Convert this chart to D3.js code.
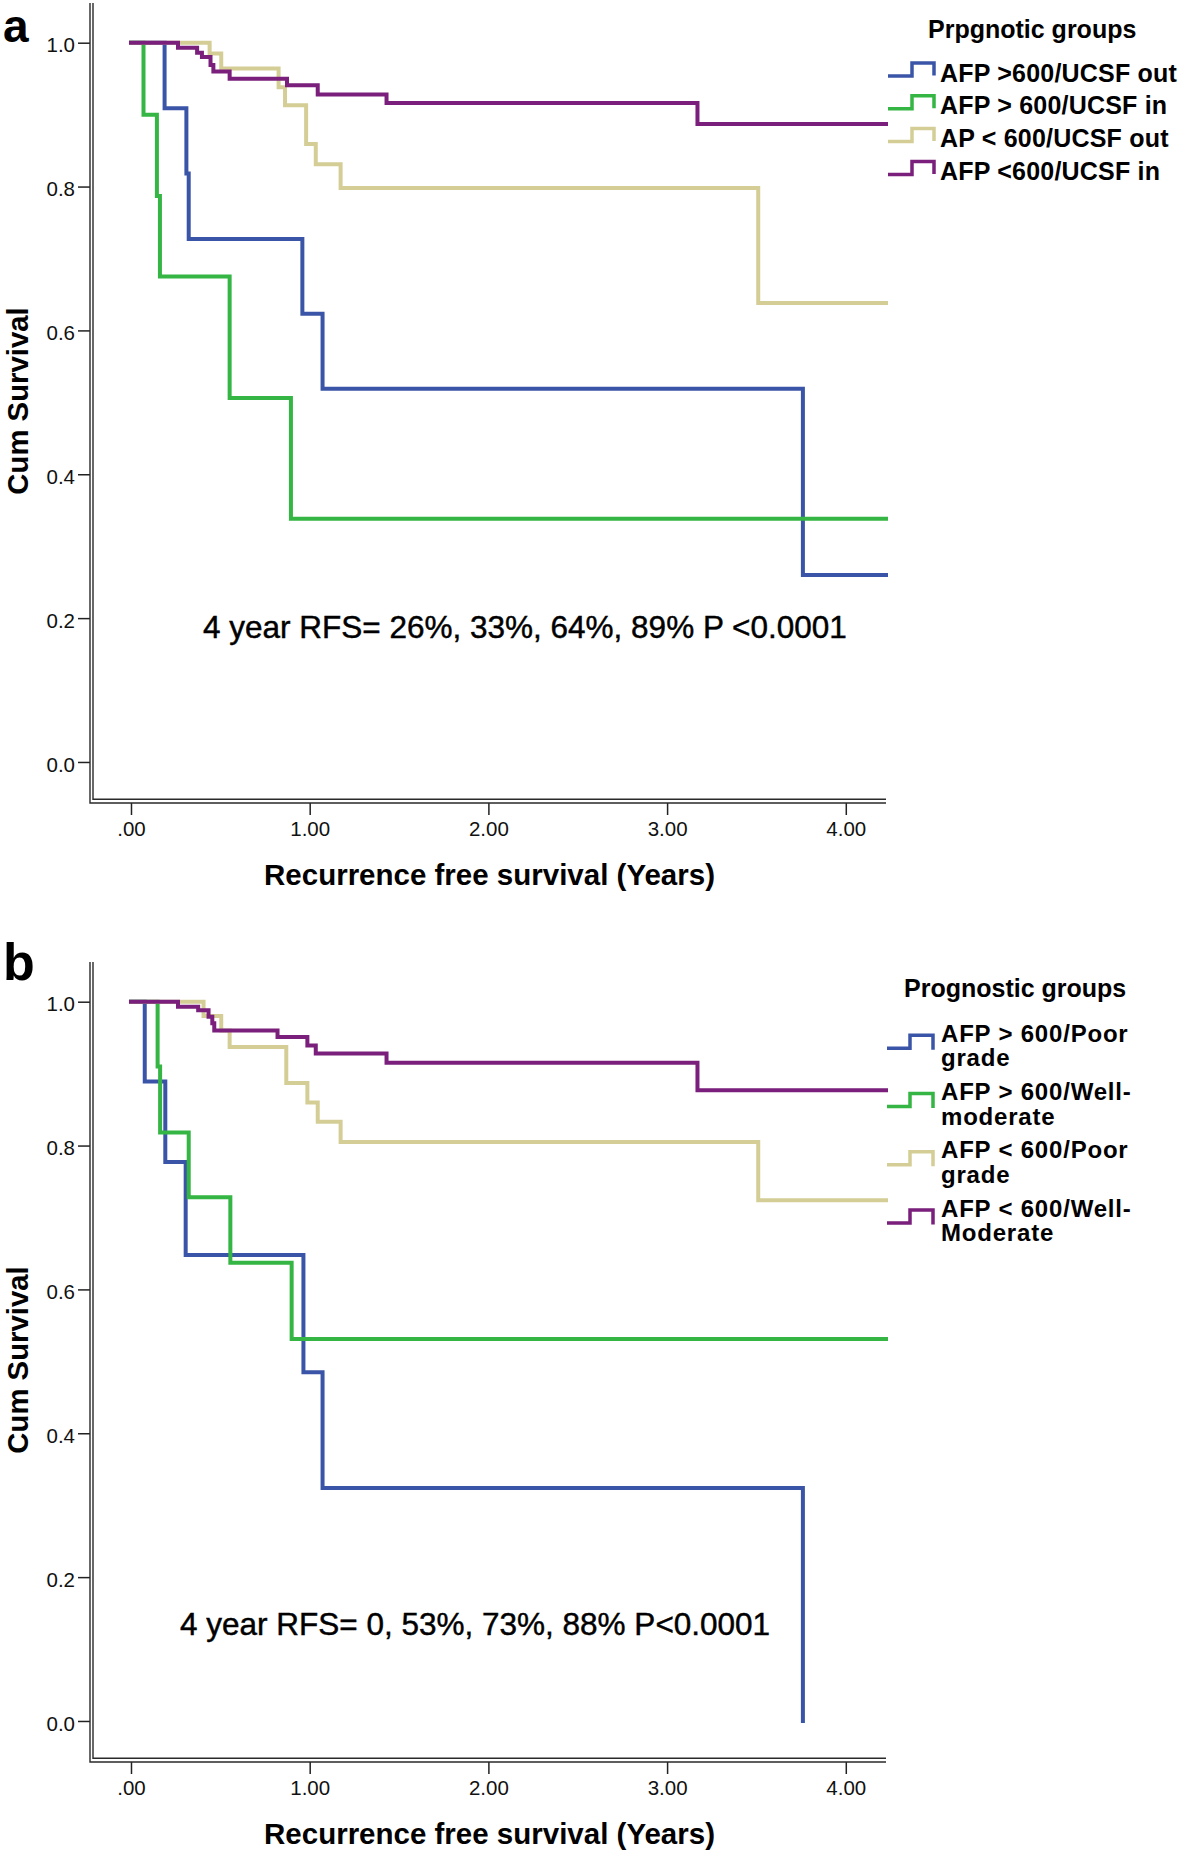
<!DOCTYPE html>
<html>
<head>
<meta charset="utf-8">
<script src="https://cdn.jsdelivr.net/npm/d3@7"></script>
<style>
  body { margin: 0; background: #fff; }
</style>
</head>
<body>
<script>
const xTicks = [0, 1, 2, 3, 4];
const yTicks = [0, 0.2, 0.4, 0.6, 0.8, 1.0];
const colors = ['#3a55a7', '#35b543', '#d4ce96', '#7a1f7b'];

// panel a: prognostic groups AFP / UCSF
const titleA = 'Prpgnotic groups';
const groupsA = [['AFP >600/UCSF out'], ['AFP > 600/UCSF in'], ['AP < 600/UCSF out'], ['AFP <600/UCSF in']];
const timeA1 = [0, 0.188, 0.31, 0.323, 0.959, 1.072, 3.76, 4.225];
const survA1 = [1, 0.909, 0.818, 0.727, 0.623, 0.519, 0.26, 0.26];
const timeA2 = [0, 0.07, 0.145, 0.162, 0.552, 0.895, 4.225];
const survA2 = [1, 0.9, 0.787, 0.675, 0.506, 0.338, 0.338];
const timeA3 = [0, 0.44, 0.505, 0.826, 0.862, 0.98, 1.034, 1.173, 3.51, 4.225];
const survA3 = [1, 0.985, 0.964, 0.938, 0.913, 0.859, 0.831, 0.798, 0.638, 0.638];
const timeA4 = [0, 0.263, 0.37, 0.397, 0.445, 0.461, 0.552, 0.873, 1.045, 1.43, 3.17, 4.225];
const survA4 = [1, 0.993, 0.986, 0.98, 0.969, 0.96, 0.95, 0.941, 0.928, 0.916, 0.887, 0.887];
const noteA = '4 year RFS= 26%, 33%, 64%, 89% P <0.0001';

// panel b: prognostic groups AFP / grade
const titleB = 'Prognostic groups';
const groupsB = [['AFP > 600/Poor', 'grade'], ['AFP > 600/Well-', 'moderate'], ['AFP < 600/Poor', 'grade'], ['AFP < 600/Well-', 'Moderate']];
const timeB1 = [0, 0.077, 0.192, 0.306, 0.965, 1.072, 3.76];
const survB1 = [1, 0.889, 0.777, 0.648, 0.485, 0.324, 0];
const timeB2 = [0, 0.149, 0.163, 0.323, 0.556, 0.899, 4.225];
const survB2 = [1, 0.91, 0.818, 0.728, 0.637, 0.531, 0.531];
const timeB3 = [0, 0.406, 0.505, 0.552, 0.869, 0.987, 1.045, 1.173, 3.51, 4.225];
const survB3 = [1, 0.98, 0.96, 0.937, 0.887, 0.86, 0.833, 0.805, 0.724, 0.724];
const timeB4 = [0, 0.263, 0.376, 0.434, 0.455, 0.466, 0.82, 0.987, 1.034, 1.43, 3.17, 4.225];
const survB4 = [1, 0.993, 0.988, 0.979, 0.97, 0.96, 0.951, 0.939, 0.928, 0.915, 0.877, 0.877];
const noteB = '4 year RFS= 0, 53%, 73%, 88% P<0.0001';

const font = '"Liberation Sans", Arial, sans-serif';
const w = 1181, h = 1853;

const svg = d3.select('body').append('svg')
  .attr('width', w)
  .attr('height', h)
  .style('background', '#fff');

const x = d3.scaleLinear().domain([-0.2126, 4.225]).range([93, 886]);
const y = d3.scaleLinear().domain([-0.0519, 1.0552]).range([799.3, 3]);

const line = d3.line()
  .x(d => x(d[0]))
  .y(d => y(d[1]))
  .curve(d3.curveStepAfter);

const zip = (t, s) => t.map((v, i) => [v, s[i]]);

function drawPanel(offset, letter, series, note, noteX, noteY) {
  const g = svg.append('g').attr('transform', `translate(0, ${offset})`);

  // axes (SPSS style double frame lines)
  const yAxis = g.append('g')
    .attr('transform', 'translate(90, 0)')
    .call(d3.axisLeft(y).tickValues(yTicks).tickSize(12).tickPadding(3).tickFormat(d3.format('.1f')));
  const xAxis = g.append('g')
    .attr('transform', 'translate(0, 803)')
    .call(d3.axisBottom(x).tickValues(xTicks).tickSize(12).tickPadding(6)
      .tickFormat(d => d === 0 ? '.00' : d3.format('.2f')(d)));

  [yAxis, xAxis].forEach(a => {
    a.select('.domain').remove();
    a.attr('font-family', font).attr('font-size', 20.5).attr('color', '#222');
    a.selectAll('.tick line').attr('stroke-width', 1.5);
    a.selectAll('.tick text').attr('fill', '#111');
  });
  yAxis.selectAll('.tick text').attr('dy', '0.45em');

  const frame = g.append('g').attr('fill', 'none').attr('stroke', '#2a2a2a').attr('stroke-width', 1.4);
  frame.append('path').attr('d', `M90,3 V803 H886`);
  frame.append('path').attr('d', `M93,3 V799.3 H886`);

  // curves
  g.append('g')
    .selectAll('path')
    .data(series)
    .join('path')
    .attr('d', d => line(d))
    .attr('fill', 'none')
    .attr('stroke', (d, i) => colors[i])
    .attr('stroke-width', 4)
    .attr('stroke-linejoin', 'miter')
    .attr('stroke-linecap', 'square');

  // labels
  g.append('text')
    .attr('x', 3)
    .attr('y', letter === 'a' ? 41.5 : 21)
    .attr('font-family', font)
    .attr('font-weight', 'bold')
    .attr('font-size', letter === 'a' ? 46 : 52)
    .text(letter);

  g.append('text')
    .attr('transform', 'translate(27.5, 401) rotate(-90)')
    .attr('text-anchor', 'middle')
    .attr('font-family', font)
    .attr('font-weight', 'bold')
    .attr('font-size', 29.3)
    .text('Cum Survival');

  g.append('text')
    .attr('x', 489.5)
    .attr('y', 885)
    .attr('text-anchor', 'middle')
    .attr('font-family', font)
    .attr('font-weight', 'bold')
    .attr('font-size', 29.5)
    .text('Recurrence free survival (Years)');

  g.append('text')
    .attr('x', noteX)
    .attr('y', noteY)
    .attr('font-family', font)
    .attr('font-size', 31.5)
    .attr('stroke', '#000')
    .attr('stroke-width', 0.45)
    .text(note);

  return g;
}

// panel a
const gA = drawPanel(0, 'a',
  [zip(timeA1, survA1), zip(timeA2, survA2), zip(timeA3, survA3), zip(timeA4, survA4)],
  noteA, 203, 638);

gA.append('text')
  .attr('x', 928).attr('y', 37.7)
  .attr('font-family', font).attr('font-weight', 'bold').attr('font-size', 25)
  .text(titleA);

const legA = gA.selectAll('.legend-a')
  .data(groupsA)
  .join('g')
  .attr('class', 'legend-a')
  .attr('transform', (d, i) => `translate(0, ${81.5 + i * 32.8})`);

legA.append('path')
  .attr('d', 'M888,-5.5 H912 V-18.5 H934 V-6')
  .attr('fill', 'none')
  .attr('stroke', (d, i) => colors[i])
  .attr('stroke-width', 3.5);

legA.append('text')
  .attr('x', 940)
  .attr('font-family', font).attr('font-weight', 'bold').attr('font-size', 25)
  .attr('letter-spacing', 0.2)
  .text(d => d[0]);

// panel b
const gB = drawPanel(959, 'b',
  [zip(timeB1, survB1), zip(timeB2, survB2), zip(timeB3, survB3), zip(timeB4, survB4)],
  noteB, 180, 676);

gB.append('text')
  .attr('x', 904).attr('y', 37.7)
  .attr('font-family', font).attr('font-weight', 'bold').attr('font-size', 25)
  .text(titleB);

const legB = gB.selectAll('.legend-b')
  .data(groupsB)
  .join('g')
  .attr('class', 'legend-b')
  .attr('transform', (d, i) => `translate(0, ${82.7 + i * 58.3})`);

legB.append('path')
  .attr('d', 'M887,6.5 H910 V-6.5 H933 V8')
  .attr('fill', 'none')
  .attr('stroke', (d, i) => colors[i])
  .attr('stroke-width', 3.5);

legB.selectAll('text')
  .data(d => d)
  .join('text')
  .attr('x', 941)
  .attr('y', (d, j) => j * 24.8)
  .attr('font-family', font).attr('font-weight', 'bold').attr('font-size', 24)
  .attr('letter-spacing', 0.8)
  .text(d => d);
</script>
</body>
</html>
